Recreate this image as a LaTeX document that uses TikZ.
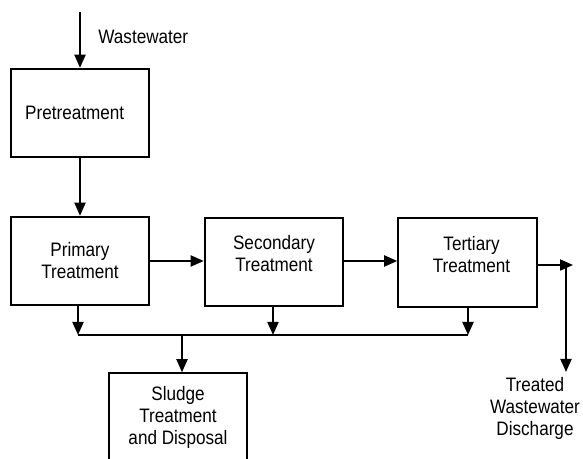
\documentclass[tikz,border=0pt]{standalone}
\usepackage{fontspec}
\setmainfont{Liberation Sans}[FakeStretch=0.88]
\usetikzlibrary{arrows.meta}

\begin{document}
\begin{tikzpicture}[x=0.75pt, y=-0.75pt, >={Triangle[length=9.75pt, width=8.25pt]}, line width=1.4pt,
	every node/.style={font=\fontsize{14.6}{16.5}\selectfont, align=center},
	block/.style={draw, rectangle, minimum width=104pt, minimum height=66.5pt, inner sep=0pt}]
		\path[use as bounding box, clip] (0,0) rectangle (583,459);

		\node[block]	(pre)		at (80, 113)	{Pretreatment\hspace*{8pt}};
		\node[block]	(prim)		at (80, 261)	{Primary\\Treatment};
		\node[block]	(sec)		at (274, 262)	{Secondary\\Treatment\\[-4pt]};
		\node[block]	(ter)		at (467.5, 262.5)	{\hspace*{6pt}Tertiary\\\hspace*{6pt}Treatment\\[-4pt]};
		\node[block]	(sludge)	at (178, 417.5)	{Sludge\\Treatment\\and Disposal};

		\node[anchor=west]	(wwlabel)	at (93, 37)		{Wastewater};
		\node				(discharge)	at (535, 408)	{Treated\\Wastewater\\Discharge};

		\coordinate (win)	at (80, 12);
		\coordinate (tout)	at (573, 265);
		\coordinate (tsplit)	at (566, 265);
		\coordinate (tdown)	at (566, 372);
		\coordinate (b1)	at (78, 335);
		\coordinate (b2)	at (273, 335);
		\coordinate (b3)	at (468, 335);
		\coordinate (bs)	at (182, 335);

		\draw[->] (win) -- (pre.north);
		\draw[->] (pre.south) -- (prim.north);
		\draw[->] (prim.east |- 0,261) -- (sec.west |- 0,261);
		\draw[->] (sec.east |- 0,261) -- (ter.west |- 0,261);
		\draw[->] (ter.east |- tout) -- (tout);
		\draw[->] (tsplit) -- (tdown);

		\draw (b1) -- (b3);
		\draw[->] (prim.south -| b1) -- (b1);
		\draw[->] (sec.south -| b2) -- (b2);
		\draw[->] (ter.south -| b3) -- (b3);
		\draw[->] (bs) -- (sludge.north -| bs);
	\end{tikzpicture}
\end{document}
